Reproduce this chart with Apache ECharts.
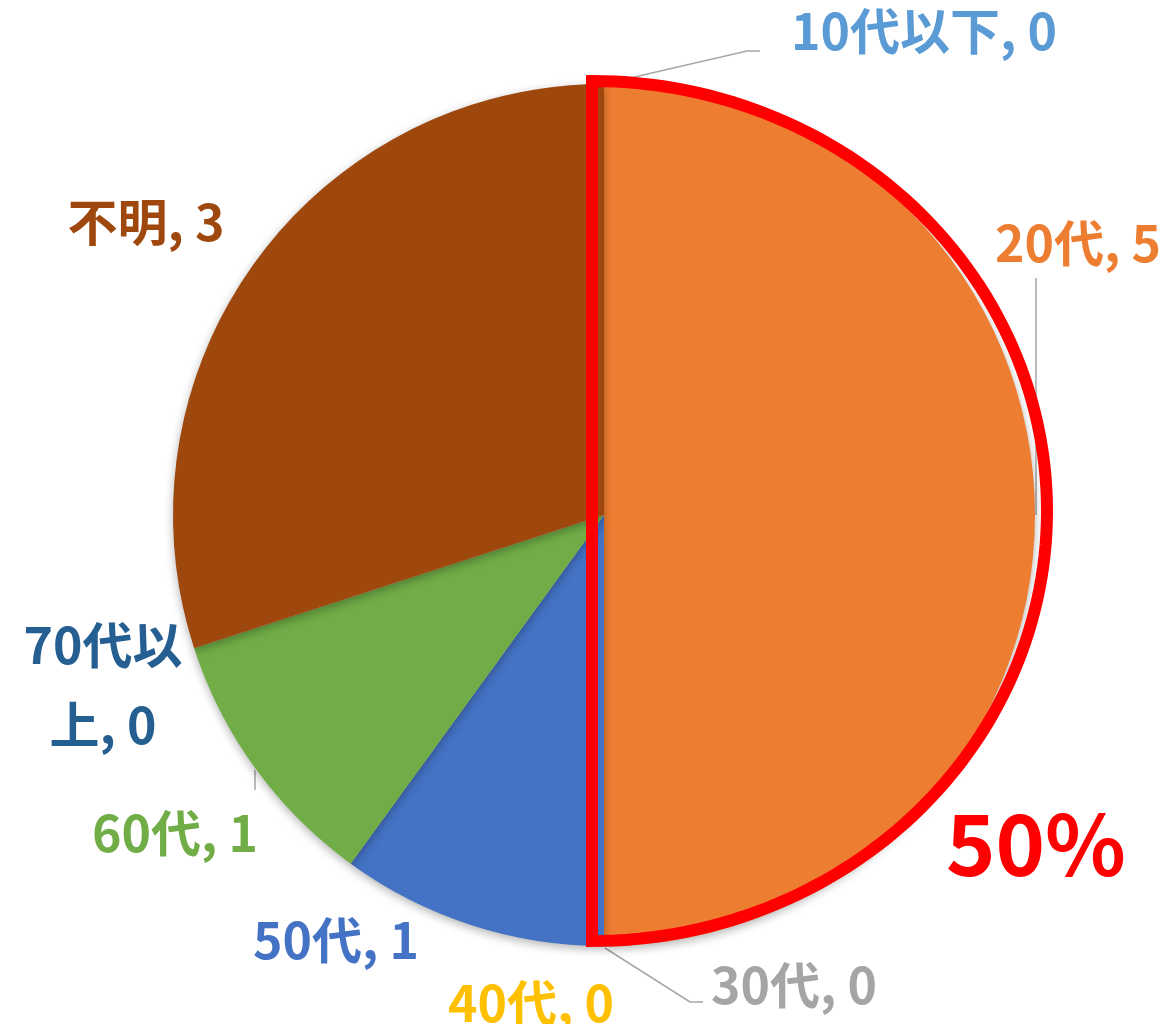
<!DOCTYPE html>
<html>
<head>
<meta charset="utf-8">
<script src="https://cdn.jsdelivr.net/npm/echarts@6/dist/echarts.min.js"></script>
<style>
  html, body { margin: 0; padding: 0; background: #fff; }
  #chart { width: 1176px; height: 1024px; }
</style>
</head>
<body>
<div id="chart"></div>
<script>
// data
var ageGroups = ['10代以下', '20代', '30代', '40代', '50代', '60代', '70代以上', '不明'];
var counts = [0, 5, 0, 0, 1, 1, 0, 3];
var sliceColors = ['#5B9BD5', '#ED7D31', '#A5A5A5', '#FFC000', '#4472C4', '#70AD47', '#255E91', '#9E480E'];

// label placement (text centre) and leader lines, excel-style
var labelPos = [
  [924, 31], [1078, 243], [794, 985], [531, 1003],
  [336, 940], [175, 833], [103, 685], [146, 222]
];
var leaderLines = {
  0: [[604, 84], [747, 51], [760, 51]],
  1: [[1036, 515], [1036, 278]],
  2: [[605, 948], [690, 1002], [703, 1002]],
  6: [[255, 790], [255, 770]]
};

var CX = 604, CY = 515, R = 431;

var chart = echarts.init(document.getElementById('chart'), null, { renderer: 'canvas' });

var pieData = ageGroups.map(function (name, i) {
  var item = {
    name: name,
    value: counts[i],
    itemStyle: { color: sliceColors[i] },
    label: { color: sliceColors[i] },
    labelLine: { show: !!leaderLines[i] }
  };
  if (name == '70代以上') {
    item.label.width = 180;
    item.label.overflow = 'break';
    item.label.lineHeight = 80;
  }
  return item;
});

// red highlight round the 20代 half (slightly offset, oval)
var hx = 592, hy = 511, hrx = 455, hry = 430;
var highlightPts = [];
for (var k = 0; k <= 120; k++) {
  var a = -Math.PI / 2 + Math.PI * k / 120;
  highlightPts.push([hx + hrx * Math.cos(a), hy + hry * Math.sin(a)]);
}

var option = {
  animation: false,
  backgroundColor: '#fff',
  textStyle: { fontFamily: '"Noto Sans CJK JP", "Noto Sans", sans-serif' },
  series: [
    {
      type: 'pie',
      center: [CX, CY],
      radius: R,
      startAngle: 90,
      clockwise: true,
      avoidLabelOverlap: false,
      itemStyle: {
        borderWidth: 0,
        shadowBlur: 10,
        shadowColor: 'rgba(0,0,0,0.3)',
        shadowOffsetY: 3
      },
      label: {
        show: true,
        formatter: '{b}, {c}',
        fontSize: 50,
        fontWeight: 'bold',
        fontFamily: '"Noto Sans CJK JP", sans-serif'
      },
      labelLine: {
        show: true,
        lineStyle: { color: '#A6A6A6', width: 1.5 }
      },
      labelLayout: function (params) {
        var i = params.dataIndex;
        var res = {
          x: labelPos[i][0],
          y: labelPos[i][1],
          align: 'center',
          verticalAlign: 'middle'
        };
        if (leaderLines[i]) {
          res.labelLinePoints = leaderLines[i];
        }
        return res;
      },
      emphasis: { disabled: true },
      data: pieData
    }
  ],
  graphic: [
    {
      type: 'polygon',
      z: 100,
      shape: { points: highlightPts },
      style: { fill: null, stroke: '#FF0000', lineWidth: 12, lineJoin: 'miter' }
    },
    {
      type: 'text',
      z: 100,
      left: 946,
      top: 802,
      style: {
        text: '50%',
        fill: '#FF0000',
        font: 'bold 84px "Noto Sans CJK JP", sans-serif'
      }
    }
  ]
};

chart.setOption(option);
</script>
</body>
</html>
